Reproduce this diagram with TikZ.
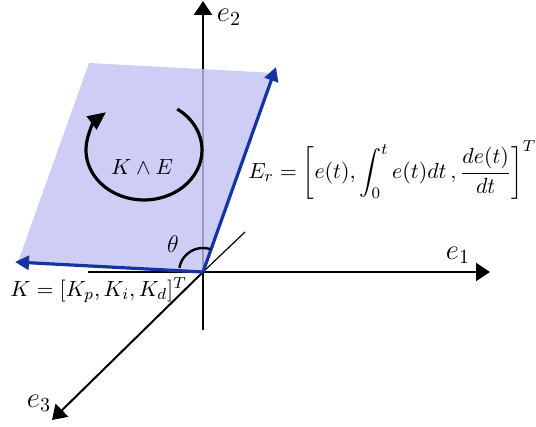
\documentclass[tikz,border=0pt]{standalone}
\usepackage{amssymb}
\usepackage{amsmath}
\usepackage{xcolor}
\usetikzlibrary{arrows.meta}

\definecolor{planefill}{RGB}{192,192,242}
\definecolor{vecblue}{RGB}{22,52,160}

\begin{document}
\begin{tikzpicture}[x=0.5pt,y=0.5pt,
  axis/.style={line width=1pt,-{Triangle[length=7pt,width=9pt]}},
  vec/.style={vecblue,line width=1.6pt,-{Triangle[length=7pt,width=7pt]}},
  lbl/.style={font=\fontsize{11}{13}\selectfont},
  eqlbl/.style={font=\fontsize{11}{13}\selectfont,anchor=west,inner sep=0pt}]
\useasboundingbox (0,0) rectangle (536,427);

\coordinate (O) at (203,155);
\coordinate (e1s) at (88,155);
\coordinate (e1t) at (490,155);
\coordinate (e2s) at (203,97);
\coordinate (e2t) at (203,426);
\coordinate (e3s) at (245,195);
\coordinate (e3t) at (52,7);
\coordinate (Kt) at (15,165);
\coordinate (Et) at (276,360);
\coordinate (ring) at (144,277);

% axes
\draw[axis] (e1s) -- (e1t);
\draw[axis] (e2s) -- (e2t);
\draw[line width=0.6pt] (e3s) -- (O);
\draw[axis] (O) -- (e3t);

% plane K, E
\fill[planefill,fill opacity=0.8] (O) -- (18,165) -- (89,364) -- (274,354) -- cycle;

\draw[vec] (O) -- (Kt);
\draw[vec] (O) -- (Et);

\draw[line width=1.2pt] (O) ++(72:24) arc[start angle=72,end angle=170,radius=12pt];

\draw[line width=1.6pt,-{Triangle[length=9pt,width=8pt]}] (ring) ++(55:29pt and 25pt)
  arc[start angle=55,end angle=-229,x radius=29pt,y radius=25pt];

\node[lbl] (lwedge) at (142,260) {$K\wedge E$};
\node[font=\large] (ltheta) at (173,183) {$\theta$};
\node[font=\Large] (le1) at (458,172) {$e_1$};
\node[font=\Large] (le2) at (229,410) {$e_2$};
\node[font=\Large] (le3) at (39,24) {$e_3$};
\node[eqlbl] (lK) at (10,137) {$K=[K_p,K_i,K_d]^T$};
\node[eqlbl] (lE) at (248,257)
  {$\displaystyle E_r=\left[e(t),\int_0^t e(t)dt\,,\frac{de(t)}{dt}\right]^T$};

\end{tikzpicture}
\end{document}
